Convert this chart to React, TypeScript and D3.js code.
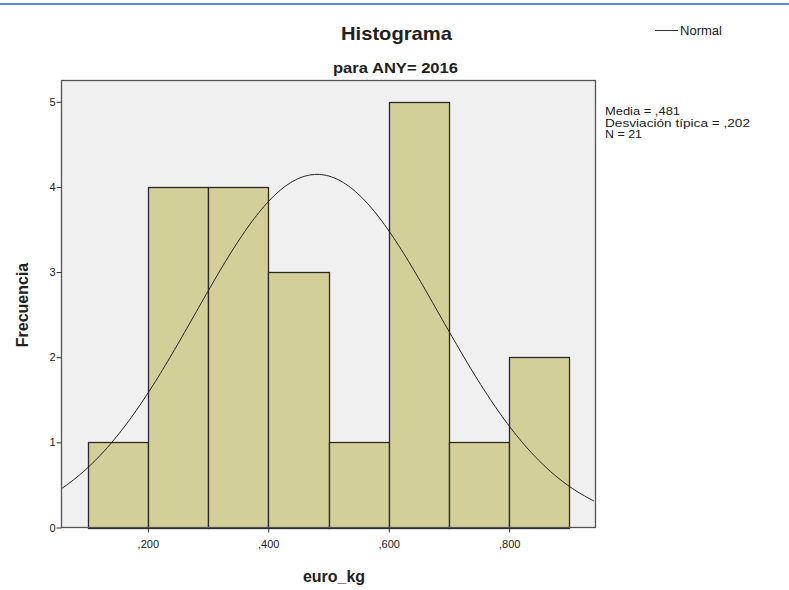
import React, { useEffect, useRef } from 'react';
import * as d3 from 'd3';

// histogram bins (euro_kg) and their counts
const binStarts = [0.1, 0.2, 0.3, 0.4, 0.5, 0.6, 0.7, 0.8];
const binWidth = 0.1;
const counts = [1, 4, 4, 3, 1, 5, 1, 2];
const xTicks = [0.2, 0.4, 0.6, 0.8];
const yTicks = [0, 1, 2, 3, 4, 5];

// summary statistics shown on the chart
const mean = 0.481;
const sd = 0.202;
const n = 21;
const statLines = ['Media = ,481', 'Desviación típica = ,202', 'N = 21'];
const statWidths = [75, 145, 37];

const FONT = '"Liberation Sans", Arial, sans-serif';

const App: React.FC = () => {
  const svgRef = useRef<SVGSVGElement>(null);

  useEffect(() => {
    if (!svgRef.current) return;
    const svg = d3.select(svgRef.current);
    svg.selectAll('*').remove();

    const width = 789;
    const height = 590;
    const plot = { left: 61.5, right: 595.5, top: 80.5, bottom: 527.5 };

    svg.append('rect').attr('width', width).attr('height', height).attr('fill', '#ffffff');

    // top blue rule
    svg.append('line')
      .attr('x1', 0).attr('x2', width)
      .attr('y1', 4).attr('y2', 4)
      .attr('stroke', '#5b8bd8').attr('stroke-width', 2);

    const x = d3.scaleLinear().domain([0.0567, 0.9433]).range([plot.left, plot.right]);
    const y = d3.scaleLinear().domain([0, 5.25]).range([plot.bottom, plot.top]);

    // plot background
    svg.append('rect')
      .attr('x', plot.left).attr('y', plot.top)
      .attr('width', plot.right - plot.left).attr('height', plot.bottom - plot.top)
      .attr('fill', '#f0f0f0');

    const clip = svg.append('defs').append('clipPath').attr('id', 'plotclip');
    clip.append('rect')
      .attr('x', plot.left).attr('y', plot.top)
      .attr('width', plot.right - plot.left).attr('height', plot.bottom - plot.top);

    // bars
    svg.append('g')
      .selectAll('rect')
      .data(binStarts.map((s, i) => ({ s, c: counts[i] })))
      .enter().append('rect')
      .attr('x', d => Math.round(x(d.s)) + 0.5)
      .attr('width', d => Math.round(x(d.s + binWidth)) - Math.round(x(d.s)))
      .attr('y', d => Math.round(y(d.c)) + 0.5)
      .attr('height', d => Math.round(y(0)) - Math.round(y(d.c)))
      .attr('fill', '#d3cf98')
      .attr('stroke', '#2b2b2b')
      .attr('stroke-width', 1.3);

    // normal curve fitted from mean / sd / N
    const scale = n * binWidth;
    const pts = d3.range(0.0567, 0.9434, 0.004).map(v => [v, scale * (1 / (sd * Math.sqrt(2 * Math.PI))) * Math.exp(-0.5 * ((v - mean) / sd) ** 2)] as [number, number]);
    svg.append('path')
      .datum(pts)
      .attr('clip-path', 'url(#plotclip)')
      .attr('d', d3.line<[number, number]>().x(d => x(d[0])).y(d => y(d[1])).curve(d3.curveBasis))
      .attr('fill', 'none')
      .attr('stroke', '#222')
      .attr('stroke-width', 1);

    // frame
    svg.append('rect')
      .attr('x', plot.left).attr('y', plot.top)
      .attr('width', plot.right - plot.left).attr('height', plot.bottom - plot.top)
      .attr('fill', 'none')
      .attr('stroke', '#555')
      .attr('stroke-width', 1.3);

    // y axis
    const yAxis = svg.append('g')
      .attr('transform', `translate(${plot.left},0)`)
      .call(d3.axisLeft(y).tickValues(yTicks).tickSize(5).tickSizeOuter(0).tickFormat(d3.format('d')));
    yAxis.select('.domain').remove();
    yAxis.selectAll('line').attr('stroke', '#333');
    yAxis.selectAll('text').attr('font-family', FONT).attr('font-size', 11).attr('fill', '#222').attr('dx', 2);

    // x axis
    const xAxis = svg.append('g')
      .attr('transform', `translate(0,${plot.bottom})`)
      .call(d3.axisBottom(x).tickValues(xTicks).tickSize(5).tickSizeOuter(0)
        .tickFormat(d => ',' + d3.format('.3f')(d as number).replace('0.', '')));
    xAxis.select('.domain').remove();
    xAxis.selectAll('line').attr('stroke', '#333');
    xAxis.selectAll('text').attr('font-family', FONT).attr('font-size', 11).attr('fill', '#222').attr('dy', '1.1em');

    // titles
    svg.append('text')
      .attr('x', 341).attr('y', 40)
      .attr('textLength', 111).attr('lengthAdjust', 'spacingAndGlyphs')
      .attr('font-family', FONT).attr('font-size', 19).attr('font-weight', 'bold').attr('fill', '#222')
      .text('Histograma');
    svg.append('text')
      .attr('x', 333).attr('y', 73)
      .attr('textLength', 125).attr('lengthAdjust', 'spacingAndGlyphs')
      .attr('font-family', FONT).attr('font-size', 14).attr('font-weight', 'bold').attr('fill', '#222')
      .text('para ANY= 2016');

    svg.append('text')
      .attr('x', 334).attr('y', 582)
      .attr('text-anchor', 'middle')
      .attr('font-family', FONT).attr('font-size', 16).attr('font-weight', 'bold').attr('fill', '#222')
      .text('euro_kg');

    svg.append('text')
      .attr('transform', 'translate(28,305) rotate(-90)')
      .attr('text-anchor', 'middle')
      .attr('font-family', FONT).attr('font-size', 16).attr('font-weight', 'bold').attr('fill', '#222')
      .text('Frecuencia');

    // legend
    svg.append('line')
      .attr('x1', 655).attr('x2', 678).attr('y1', 30.5).attr('y2', 30.5)
      .attr('stroke', '#333').attr('stroke-width', 1);
    svg.append('text')
      .attr('x', 680).attr('y', 35)
      .attr('textLength', 42).attr('lengthAdjust', 'spacingAndGlyphs')
      .attr('font-family', FONT).attr('font-size', 12).attr('fill', '#222')
      .text('Normal');

    // stats
    svg.append('g')
      .selectAll('text')
      .data(statLines)
      .enter().append('text')
      .attr('x', 605)
      .attr('y', (_, i) => 115 + i * 11.5)
      .attr('textLength', (_, i) => statWidths[i]).attr('lengthAdjust', 'spacingAndGlyphs')
      .attr('font-family', FONT).attr('font-size', 11).attr('fill', '#222')
      .text(d => d);
  }, []);

  return (
    <svg
      ref={svgRef}
      width={789}
      height={590}
      style={{ position: 'absolute', left: 0, top: 0, display: 'block' }}
    />
  );
};

export default App;
